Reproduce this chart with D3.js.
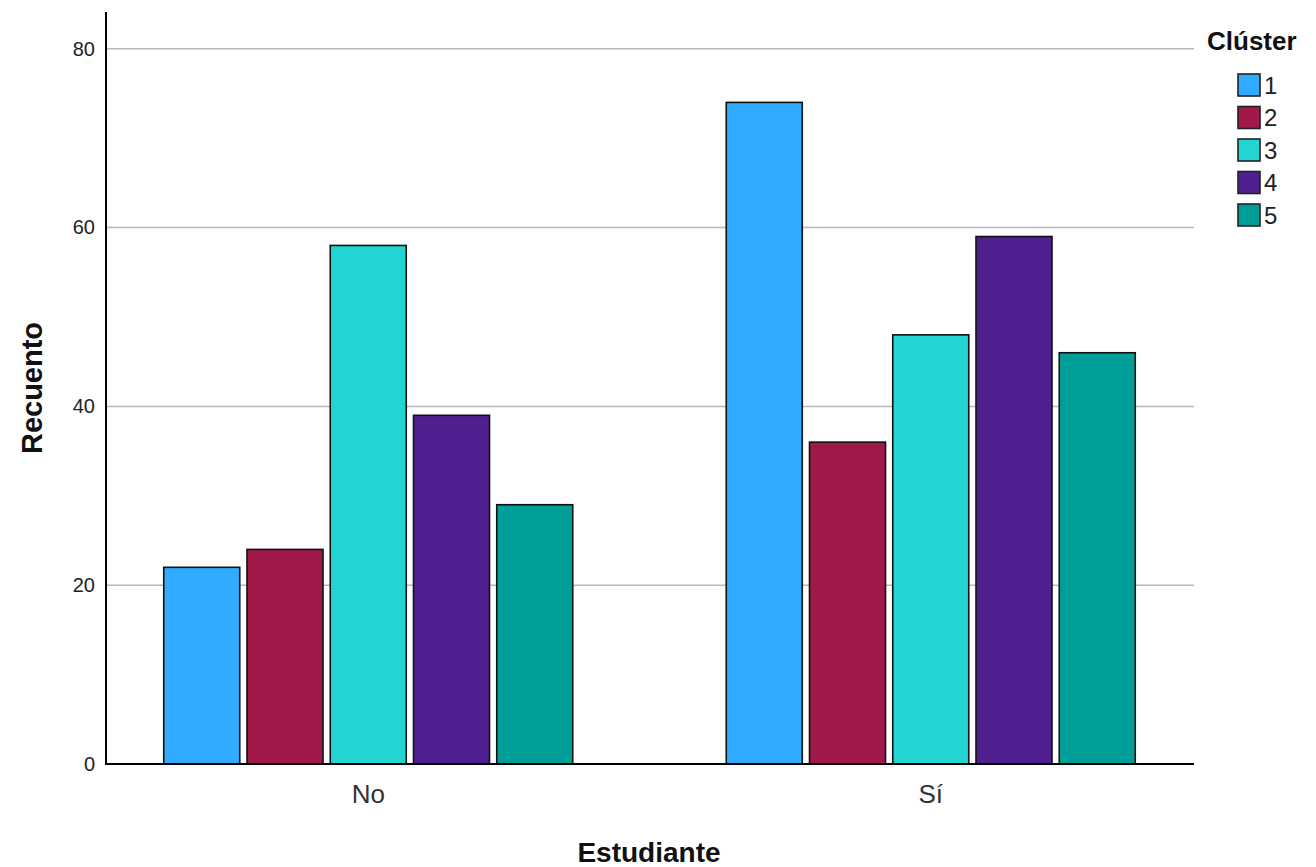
<!DOCTYPE html>
<html>
<head>
<meta charset="utf-8">
<script src="https://cdn.jsdelivr.net/npm/d3@7"></script>
<style>
  html, body { margin: 0; padding: 0; background: #ffffff; }
  svg { display: block; font-family: "Liberation Sans", Arial, sans-serif; }
</style>
</head>
<body>
<svg id="chart" width="1316" height="867"></svg>
<script>
const categories = ["No", "Sí"];
const clusters = ["1", "2", "3", "4", "5"];
const valuesNo = [22, 24, 58, 39, 29];
const valuesSi = [74, 36, 48, 59, 46];
const colors = ["#30abff", "#a0194a", "#22d5d2", "#4f1f90", "#009e99"];
const yTicks = [0, 20, 40, 60, 80];

const rows = [];
categories.forEach((c, i) => {
  const vals = i === 0 ? valuesNo : valuesSi;
  clusters.forEach((k, j) => rows.push({ cat: c, cluster: k, value: vals[j] }));
});

const svg = d3.select("#chart");
const plotLeft = 106, plotRight = 1194, plotBottom = 764, plotTop = 12;

const y = d3.scaleLinear().domain([0, 84]).range([plotBottom, 13]);
const x0 = d3.scaleBand().domain(categories).range([87, 1212]).padding(0);
const x1 = d3.scaleBand().domain(clusters).range([76.75, 485.75]).paddingInner(0.087).paddingOuter(0);
const color = d3.scaleOrdinal().domain(clusters).range(colors);

// gridlines
svg.append("g").selectAll("line").data(yTicks.filter(d => d > 0)).join("line")
  .attr("x1", plotLeft).attr("x2", plotRight)
  .attr("y1", d => y(d)).attr("y2", d => y(d))
  .attr("stroke", "#b9b9b9").attr("stroke-width", 1.5);

// y tick labels
const yAxis = svg.append("g").attr("transform", `translate(${plotLeft},0)`)
  .call(d3.axisLeft(y).tickValues(yTicks).tickSize(0).tickPadding(11));
yAxis.select(".domain").remove();
yAxis.selectAll("text").attr("font-size", 20).attr("fill", "#222")
  .attr("font-family", "Liberation Sans, Arial, sans-serif");

// bars
svg.append("g").selectAll("rect").data(rows).join("rect")
  .attr("x", d => x0(d.cat) + x1(d.cluster))
  .attr("width", x1.bandwidth())
  .attr("y", d => y(d.value))
  .attr("height", d => y(0) - y(d.value))
  .attr("fill", d => color(d.cluster))
  .attr("stroke", "#111").attr("stroke-width", 1.6);

// axis lines
svg.append("line").attr("x1", plotLeft).attr("x2", plotLeft)
  .attr("y1", plotTop).attr("y2", plotBottom + 1)
  .attr("stroke", "#000").attr("stroke-width", 2);
svg.append("line").attr("x1", plotLeft).attr("x2", plotRight)
  .attr("y1", plotBottom).attr("y2", plotBottom)
  .attr("stroke", "#000").attr("stroke-width", 2);

// x category labels
const xAxis = svg.append("g").attr("transform", `translate(0,${plotBottom})`)
  .call(d3.axisBottom(x0).tickSize(0).tickPadding(21));
xAxis.select(".domain").remove();
xAxis.selectAll("text").attr("font-size", 26).attr("fill", "#333")
  .attr("font-family", "Liberation Sans, Arial, sans-serif");

// axis titles
svg.append("text").attr("x", 649).attr("y", 862)
  .attr("text-anchor", "middle").attr("font-size", 28).attr("font-weight", "bold")
  .attr("fill", "#111").text("Estudiante");
svg.append("text")
  .attr("transform", "translate(42,388) rotate(-90)")
  .attr("text-anchor", "middle").attr("font-size", 29).attr("font-weight", "bold")
  .attr("fill", "#111").text("Recuento");

// legend
const legend = svg.append("g");
legend.append("text").attr("x", 1207).attr("y", 50)
  .attr("font-size", 26).attr("font-weight", "bold").attr("fill", "#111").text("Clúster");
const li = legend.selectAll("g.item").data(clusters).join("g")
  .attr("class", "item")
  .attr("transform", (d, i) => `translate(1238,${74 + i * 32.5})`);
li.append("rect").attr("width", 22).attr("height", 22)
  .attr("fill", d => color(d)).attr("stroke", "#222").attr("stroke-width", 1.6);
li.append("text").attr("x", 26).attr("y", 11).attr("dy", "0.36em")
  .attr("font-size", 24).attr("fill", "#222").text(d => d);
</script>
</body>
</html>
